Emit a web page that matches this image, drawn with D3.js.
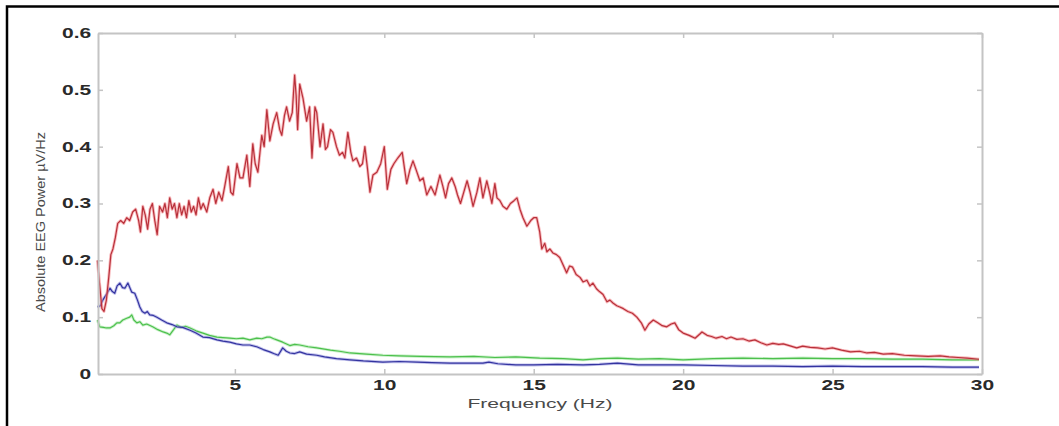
<!DOCTYPE html>
<html>
<head>
<meta charset="utf-8">
<script src="https://cdn.jsdelivr.net/npm/d3@7"></script>
<style>
  html, body { margin: 0; padding: 0; background: #fff; }
  svg { display: block; }
</style>
</head>
<body>
<svg id="chart" width="1059" height="426"></svg>
<script>
// ---- data ----
const xTicks = [5, 10, 15, 20, 25, 30];
const yTicks = [0, 0.1, 0.2, 0.3, 0.4, 0.5, 0.6];
const xLabel = "Frequency (Hz)";
const yLabel = "Absolute EEG Power \u00b5V/Hz";

const redFreq = [0.4,0.47,0.55,0.62,0.7,0.78,0.85,0.92,1.0,1.08,1.18,1.28,1.38,1.48,1.58,1.68,1.78,1.84,1.92,2.0,2.08,2.16,2.24,2.32,2.4,2.48,2.58,2.66,2.74,2.82,2.9,2.98,3.06,3.14,3.22,3.3,3.38,3.46,3.54,3.62,3.7,3.78,3.86,3.94,4.06,4.16,4.27,4.36,4.46,4.57,4.66,4.78,4.86,4.94,5.07,5.17,5.27,5.4,5.5,5.6,5.68,5.77,5.9,5.98,6.07,6.17,6.28,6.4,6.5,6.57,6.66,6.73,6.83,6.92,7.0,7.05,7.1,7.17,7.28,7.4,7.5,7.58,7.68,7.74,7.85,7.95,8.03,8.1,8.2,8.28,8.4,8.5,8.6,8.68,8.78,8.88,8.95,9.07,9.18,9.27,9.35,9.44,9.52,9.62,9.75,9.88,10.0,10.1,10.22,10.32,10.45,10.6,10.68,10.75,10.86,10.96,11.06,11.19,11.3,11.42,11.56,11.7,11.86,11.96,12.05,12.15,12.26,12.37,12.45,12.55,12.66,12.77,12.87,12.97,13.1,13.2,13.3,13.43,13.52,13.6,13.7,13.77,13.87,13.97,14.1,14.22,14.34,14.44,14.54,14.64,14.77,14.9,15.0,15.1,15.2,15.27,15.37,15.44,15.54,15.64,15.76,15.87,16.0,16.1,16.2,16.3,16.42,16.55,16.65,16.78,16.88,16.98,17.1,17.2,17.32,17.45,17.55,17.65,17.78,17.88,18.0,18.15,18.3,18.45,18.6,18.72,18.85,19.0,19.15,19.3,19.45,19.6,19.72,19.85,20.0,20.2,20.4,20.55,20.63,20.8,20.95,21.1,21.3,21.45,21.6,21.8,22.0,22.2,22.4,22.6,22.8,23.0,23.2,23.35,23.55,23.8,24.0,24.25,24.5,24.75,25.0,25.3,25.6,25.9,26.15,26.4,26.7,27.0,27.4,27.8,28.2,28.6,28.9,29.2,29.5,29.9];
const redPower = [0.2,0.16,0.115,0.11,0.13,0.17,0.21,0.22,0.24,0.265,0.27,0.265,0.275,0.27,0.285,0.29,0.27,0.25,0.295,0.28,0.255,0.29,0.3,0.27,0.245,0.295,0.285,0.3,0.275,0.31,0.29,0.3,0.275,0.3,0.28,0.295,0.275,0.305,0.285,0.295,0.28,0.31,0.29,0.3,0.285,0.31,0.325,0.3,0.32,0.305,0.33,0.365,0.32,0.315,0.37,0.345,0.345,0.385,0.33,0.405,0.37,0.355,0.42,0.4,0.465,0.41,0.44,0.46,0.43,0.42,0.455,0.47,0.445,0.46,0.526,0.49,0.43,0.51,0.485,0.445,0.47,0.38,0.47,0.46,0.4,0.44,0.395,0.4,0.43,0.425,0.4,0.385,0.39,0.38,0.425,0.39,0.375,0.38,0.365,0.37,0.4,0.36,0.32,0.35,0.355,0.37,0.4,0.325,0.36,0.37,0.38,0.39,0.36,0.335,0.36,0.375,0.36,0.34,0.345,0.315,0.33,0.315,0.35,0.33,0.31,0.335,0.345,0.33,0.315,0.3,0.32,0.34,0.32,0.295,0.32,0.345,0.31,0.34,0.32,0.3,0.335,0.31,0.305,0.295,0.29,0.3,0.305,0.31,0.29,0.275,0.26,0.27,0.275,0.275,0.25,0.22,0.23,0.215,0.22,0.213,0.21,0.205,0.19,0.178,0.19,0.188,0.175,0.17,0.162,0.165,0.155,0.16,0.15,0.145,0.14,0.127,0.13,0.125,0.12,0.118,0.115,0.11,0.107,0.1,0.09,0.077,0.088,0.095,0.09,0.085,0.083,0.088,0.09,0.078,0.072,0.068,0.063,0.07,0.074,0.068,0.066,0.063,0.066,0.062,0.065,0.061,0.062,0.058,0.06,0.055,0.051,0.054,0.052,0.053,0.05,0.046,0.049,0.047,0.046,0.044,0.046,0.042,0.039,0.04,0.037,0.038,0.035,0.036,0.033,0.032,0.031,0.032,0.03,0.029,0.028,0.026];

const blueFreq = [0.4,0.5,0.58,0.7,0.82,0.9,0.98,1.06,1.15,1.24,1.32,1.42,1.5,1.55,1.65,1.74,1.82,1.9,1.99,2.07,2.15,2.27,2.39,2.55,2.72,2.9,3.06,3.25,3.5,3.7,3.93,4.15,4.4,4.6,4.83,5.05,5.27,5.5,5.73,5.95,6.17,6.3,6.45,6.6,6.72,6.84,7.0,7.17,7.4,7.74,8.0,8.4,8.85,9.3,9.95,10.5,11.1,11.6,12.2,12.8,13.3,13.5,13.8,14.4,15.0,15.8,16.65,17.2,17.8,18.5,19.2,20.0,21,22,23,24,25,26,27,28,29,29.9];
const bluePower = [0.118,0.12,0.13,0.14,0.151,0.145,0.142,0.155,0.16,0.152,0.151,0.16,0.15,0.144,0.142,0.13,0.118,0.11,0.107,0.11,0.104,0.103,0.1,0.095,0.09,0.087,0.083,0.082,0.077,0.072,0.065,0.064,0.06,0.058,0.056,0.053,0.051,0.051,0.048,0.043,0.039,0.036,0.033,0.046,0.04,0.037,0.036,0.039,0.035,0.033,0.03,0.027,0.025,0.023,0.021,0.022,0.021,0.02,0.019,0.019,0.019,0.021,0.018,0.016,0.016,0.017,0.016,0.017,0.019,0.016,0.016,0.016,0.015,0.014,0.014,0.013,0.014,0.013,0.013,0.013,0.012,0.012];

const greenFreq = [0.4,0.48,0.6,0.7,0.82,0.95,1.05,1.15,1.25,1.38,1.48,1.55,1.62,1.72,1.82,1.92,2.05,2.25,2.42,2.6,2.72,2.82,2.95,3.06,3.2,3.35,3.5,3.7,3.93,4.15,4.4,4.6,4.83,5.05,5.27,5.5,5.73,5.9,6.07,6.17,6.3,6.4,6.6,6.84,7.0,7.17,7.45,7.74,8.2,8.5,8.85,9.4,9.95,10.5,11.2,12.2,13.0,13.7,14.4,15.2,16.0,16.65,17.2,17.8,18.5,19.2,20.0,21,22,23,24,25,26,27,28,29,29.9];
const greenPower = [0.095,0.083,0.082,0.081,0.081,0.085,0.09,0.09,0.095,0.098,0.1,0.104,0.095,0.09,0.092,0.086,0.088,0.083,0.078,0.074,0.072,0.069,0.078,0.086,0.082,0.084,0.081,0.076,0.072,0.068,0.065,0.064,0.063,0.062,0.063,0.06,0.063,0.062,0.065,0.065,0.062,0.06,0.056,0.05,0.052,0.051,0.048,0.046,0.042,0.04,0.037,0.035,0.033,0.032,0.031,0.03,0.031,0.029,0.03,0.028,0.027,0.025,0.027,0.028,0.026,0.027,0.025,0.027,0.028,0.027,0.028,0.027,0.027,0.026,0.026,0.025,0.025];

// ---- layout ----
const svg = d3.select("#chart");
const mLeft = 98, mRight = 982, mTop = 33, mBottom = 374;

const x = d3.scaleLinear().domain([0.42, 30]).range([mLeft, mRight]);
const y = d3.scaleLinear().domain([0, 0.6]).range([mBottom, mTop]);

// outer black frame (clipped by the window on right and bottom)
svg.append("rect")
  .attr("x", 7).attr("y", 6.5)
  .attr("width", 1100).attr("height", 500)
  .attr("fill", "none").attr("stroke", "#000").attr("stroke-width", 2.5);

const axisColor = "#c4c4c4";
const labelColor = "#2a2a2a";

// series
const series = [
  { f: greenFreq, p: greenPower, color: "#4cc04c", halo: "#a8e6a8" },
  { f: blueFreq,  p: bluePower,  color: "#3434a0", halo: "#9a9ae0" },
  { f: redFreq,   p: redPower,   color: "#b8303a", halo: "#f48a90" }
];
const line = d3.line().x(d => x(d[0])).y(d => y(d[1]));
series.forEach(s => {
  const pts = s.f.map((f, i) => [f, s.p[i]]);
  svg.append("path").datum(pts).attr("d", line)
    .attr("fill", "none").attr("stroke", s.halo).attr("stroke-width", 3)
    .attr("stroke-opacity", 0.6).attr("stroke-linejoin", "round");
  svg.append("path").datum(pts).attr("d", line)
    .attr("fill", "none").attr("stroke", s.color).attr("stroke-width", 1.2)
    .attr("stroke-linejoin", "round");
});

// axes box
function styleAxis(g) {
  g.select(".domain").attr("stroke", axisColor).attr("stroke-width", 2);
  g.selectAll(".tick line").attr("stroke", axisColor).attr("stroke-width", 1.5);
}

const xAxis = svg.append("g").attr("transform", `translate(0,${mBottom})`)
  .call(d3.axisBottom(x).tickValues(xTicks).tickSizeInner(-5).tickSizeOuter(0));
styleAxis(xAxis);
xAxis.selectAll(".tick text")
  .attr("font-family", "Liberation Sans, Arial, sans-serif")
  .attr("font-weight", "bold").attr("font-size", 14)
  .attr("fill", labelColor)
  .attr("y", 6)
  .attr("transform", "scale(1.5,1)");

const yAxis = svg.append("g").attr("transform", `translate(${mLeft},0)`)
  .call(d3.axisLeft(y).tickValues(yTicks).tickSizeInner(-5).tickSizeOuter(0)
    .tickFormat(d => d === 0 ? "0" : d3.format(".1f")(d)));
styleAxis(yAxis);
yAxis.selectAll(".tick text")
  .attr("font-family", "Liberation Sans, Arial, sans-serif")
  .attr("font-weight", "bold").attr("font-size", 14)
  .attr("fill", labelColor)
  .attr("x", -4.5)
  .attr("transform", "scale(1.5,1)");

const xTop = svg.append("g").attr("transform", `translate(0,${mTop})`)
  .call(d3.axisTop(x).tickValues(xTicks).tickSizeInner(-5).tickSizeOuter(0).tickFormat(""));
styleAxis(xTop);
const yRight = svg.append("g").attr("transform", `translate(${mRight},0)`)
  .call(d3.axisRight(y).tickValues(yTicks).tickSizeInner(-5).tickSizeOuter(0).tickFormat(""));
styleAxis(yRight);

// axis titles
svg.append("text")
  .attr("x", 540).attr("y", 408)
  .attr("text-anchor", "middle")
  .attr("font-family", "Liberation Sans, Arial, sans-serif")
  .attr("font-size", 13).attr("fill", "#4a4a4a")
  .attr("textLength", 145).attr("lengthAdjust", "spacingAndGlyphs")
  .text(xLabel);

svg.append("text")
  .attr("transform", "translate(45,222) rotate(-90)")
  .attr("text-anchor", "middle")
  .attr("font-family", "Liberation Sans, Arial, sans-serif")
  .attr("font-size", 12).attr("fill", "#4a4a4a")
  .attr("textLength", 180).attr("lengthAdjust", "spacingAndGlyphs")
  .text(yLabel);
</script>
</body>
</html>
